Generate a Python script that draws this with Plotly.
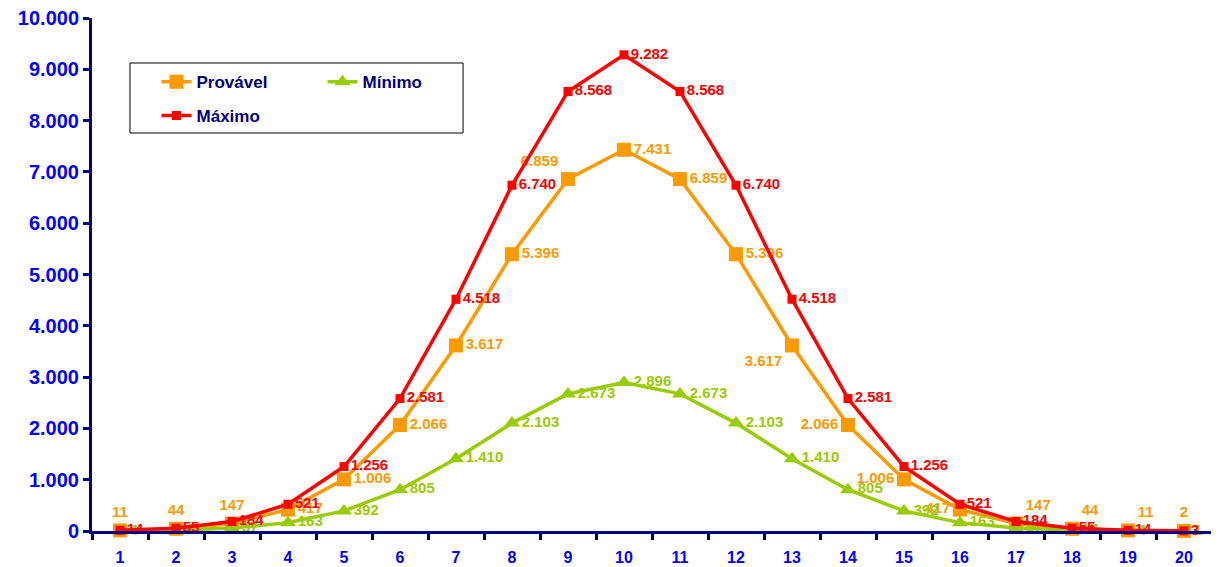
import plotly.graph_objects as go

categories = list(range(1, 21))
provavel = [11, 44, 147, 417, 1006, 2066, 3617, 5396, 6859, 7431, 6859, 5396, 3617, 2066, 1006, 417, 147, 44, 11, 2]
minimo = [4, 17, 57, 163, 392, 805, 1410, 2103, 2673, 2896, 2673, 2103, 1410, 805, 392, 163, 57, 17, 4, 1]
maximo = [14, 55, 184, 521, 1256, 2581, 4518, 6740, 8568, 9282, 8568, 6740, 4518, 2581, 1256, 521, 184, 55, 14, 3]
y_ticks = [0, 1000, 2000, 3000, 4000, 5000, 6000, 7000, 8000, 9000, 10000]

pos_provavel = ["top center", "top center", "top center", "middle right", "middle right",
                "middle right", "middle right", "middle right", "top left", "middle right",
                "middle right", "middle right", "bottom left", "middle left", "middle left",
                "middle left", "top right", "top right", "top right", "top center"]

ORANGE = "#FF9900"
GREEN = "#99CC00"
RED = "#FF0000"
NAVY = "#000080"
BLUE = "#0000FF"
FONT = "Liberation Sans, Arial, sans-serif"

fig = go.Figure()
fig.add_trace(go.Scatter(
    x=categories, y=provavel, name="Provável", mode="lines+markers+text",
    line=dict(color=ORANGE, width=3.5),
    marker=dict(symbol="square", size=14, color=ORANGE),
    texttemplate="%{y:,}", textposition=pos_provavel,
    textfont=dict(family=FONT, size=15, color=ORANGE, weight="bold"),
    cliponaxis=False, legend="legend",
))
fig.add_trace(go.Scatter(
    x=categories, y=minimo, name="Mínimo", mode="lines+markers+text",
    line=dict(color=GREEN, width=3.5),
    marker=dict(symbol="triangle-up", size=14, color=GREEN),
    texttemplate="%{y:,}", textposition="middle right",
    textfont=dict(family=FONT, size=15, color=GREEN, weight="bold"),
    cliponaxis=False, legend="legend",
))
fig.add_trace(go.Scatter(
    x=categories, y=maximo, name="Máximo", mode="lines+markers+text",
    line=dict(color=RED, width=3.5),
    marker=dict(symbol="square", size=9, color=RED),
    texttemplate="%{y:,}", textposition="middle right",
    textfont=dict(family=FONT, size=15, color=RED, weight="bold"),
    cliponaxis=False, legend="legend2",
))

legend_font = dict(family=FONT, size=17, color=NAVY, weight="bold")

fig.update_layout(
    width=1211, height=559,
    margin=dict(l=84, r=7, t=10, b=36),
    paper_bgcolor="white", plot_bgcolor="white",
    separators=",.",
    font=dict(family=FONT),
    showlegend=True,
    legend=dict(orientation="h", x=0.0576, y=0.91, xanchor="left", yanchor="top",
                entrywidth=121, font=legend_font, bgcolor="rgba(0,0,0,0)",
                traceorder="normal"),
    legend2=dict(orientation="h", x=0.0576, y=0.844, xanchor="left", yanchor="top",
                 font=legend_font, bgcolor="rgba(0,0,0,0)"),
    shapes=[dict(type="rect", xref="paper", yref="paper",
                 x0=0.0339, x1=0.3313, y0=0.7758, y1=0.9123,
                 line=dict(color="black", width=1), fillcolor="white", layer="below")],
    xaxis=dict(range=[0.5, 20.5], tickvals=categories, ticktext=[str(c) for c in categories],
               ticks="", showline=True, linecolor=NAVY, linewidth=3,
               showgrid=False, zeroline=False, ticklabelstandoff=10, automargin=False,
               ticklabeloverflow="allow",
               tickfont=dict(family=FONT, size=16, color=BLUE, weight="bold"),
               minor=dict(tickvals=[c + 0.5 for c in [0] + categories], ticks="outside",
                          ticklen=6, tickwidth=3, tickcolor=NAVY, showgrid=False)),
    yaxis=dict(range=[0, 10000], tickvals=y_ticks, tickformat=",d",
               ticks="outside", ticklen=6, tickwidth=3, tickcolor=NAVY,
               showline=True, linecolor=NAVY, linewidth=3, automargin=False,
               showgrid=False, zeroline=False, ticklabeloverflow="allow",
               tickfont=dict(family=FONT, size=20, color=BLUE, weight="bold")),
)

fig.write_html("out.html")
